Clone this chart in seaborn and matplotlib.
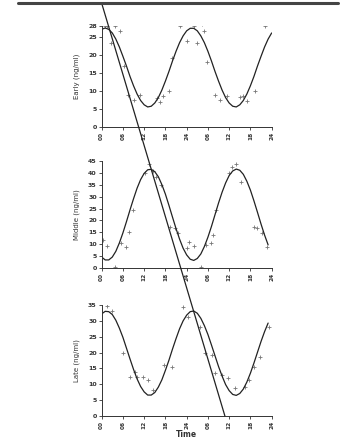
import numpy as np
import pandas as pd
import matplotlib
matplotlib.use("Agg")
import matplotlib.pyplot as plt
from matplotlib.lines import Line2D
from matplotlib.patches import ConnectionPatch
import seaborn as sns

# ---------------- data ----------------
early_fit_t = list(range(0, 49))
early_fit = [27.1, 27.5, 27.1, 26.1, 24.4, 22.2, 19.6, 16.9, 14.0, 11.4, 9.1, 7.3, 6.1,
             5.5, 5.7, 6.6, 8.1, 10.2, 12.7, 15.4, 18.3, 21.0, 23.4, 25.3, 26.7,
             27.4, 27.4, 26.7, 25.3, 23.4, 21.0, 18.3, 15.4, 12.7, 10.2, 8.1, 6.6,
             5.7, 5.5, 6.1, 7.3, 9.1, 11.4, 14.0, 16.9, 19.6, 22.2, 24.4, 26.1]
middle_fit_t = list(range(0, 48))
middle_fit = [4.7, 3.5, 3.5, 4.7, 7.1, 10.6, 14.8, 19.5, 24.4, 29.1, 33.5, 37.1, 39.7,
              41.2, 41.4, 40.4, 38.3, 35.0, 31.0, 26.3, 21.4, 16.6, 12.2, 8.4, 5.6,
              3.8, 3.3, 4.1, 6.0, 9.1, 13.0, 17.5, 22.4, 27.3, 31.8, 35.7, 38.8,
              40.7, 41.5, 41.0, 39.3, 36.4, 32.7, 28.2, 23.4, 18.5, 13.9, 9.8]
late_fit_t = list(range(0, 48))
late_fit = [32.2, 33.0, 32.9, 32.0, 30.2, 27.7, 24.8, 21.4, 18.0, 14.7, 11.7, 9.3, 7.6,
            6.6, 6.6, 7.4, 9.1, 11.4, 14.4, 17.6, 21.1, 24.4, 27.5, 30.0, 31.8,
            32.9, 33.1, 32.4, 30.8, 28.5, 25.7, 22.4, 19.0, 15.6, 12.6, 9.9, 8.0,
            6.8, 6.5, 7.1, 8.5, 10.7, 13.5, 16.7, 20.1, 23.5, 26.6, 29.3]

early_obs_t = [0.9, 1.6, 3.8, 5.2, 2.6, 6.3, 7.5, 9.0, 10.8, 15.6, 16.5, 17.3, 18.9, 20.0,
               22.2, 24.0, 26.0, 26.9, 28.3, 28.8, 29.7, 32.0, 33.5, 35.4, 39.2, 40.0,
               41.0, 43.2, 46.2]
early_obs_v = [28.0, 28.0, 28.0, 26.6, 23.3, 17.0, 8.8, 7.4, 8.8, 8.0, 7.0, 8.6, 10.0, 19.0,
               28.0, 24.0, 28.0, 23.3, 28.5, 26.7, 17.9, 8.8, 7.4, 8.6, 8.3, 8.6,
               7.1, 9.9, 28.0]

middle_obs_t = [0.5, 1.6, 3.7, 5.6, 6.8, 7.8, 8.9, 12.1, 13.5, 14.5, 15.4, 16.8, 19.2, 20.6,
                21.5, 24.0, 24.8, 26.2, 28.0, 29.4, 30.8, 31.3, 32.2, 36.0, 36.9, 37.9,
                39.3, 43.0, 43.9, 45.3, 46.7]
middle_obs_v = [11.8, 9.3, 0.7, 10.4, 9.0, 15.0, 24.4, 40.0, 43.5, 40.5, 38.0, 35.0, 17.4, 16.7,
                14.6, 8.4, 11.1, 9.3, 0.7, 9.7, 10.4, 13.9, 24.4, 40.0, 42.5, 43.5,
                36.0, 17.4, 17.0, 14.6, 9.0]

late_obs_t = [1.4, 2.8, 6.1, 8.0, 9.4, 9.9, 11.8, 13.2, 14.6, 17.5, 19.8, 23.1, 24.5, 27.8,
              29.2, 31.1, 32.1, 34.0, 35.8, 37.7, 40.6, 41.5, 42.9, 44.8, 47.2]
late_obs_v = [34.7, 33.0, 19.8, 12.4, 14.0, 12.4, 12.4, 11.4, 8.2, 16.1, 15.6, 34.5, 31.3, 28.2,
              19.8, 19.2, 13.5, 12.9, 11.9, 8.7, 9.3, 11.4, 15.6, 18.7, 28.2]

panel_names = ["Early (ng/ml)", "Middle (ng/ml)", "Late (ng/ml)"]
x_ticks = [0, 6, 12, 18, 24, 30, 36, 42, 48]
x_tick_labels = ["00", "06", "12", "18", "24", "06", "12", "18", "24"]
y_ticks = [[0, 5, 10, 15, 20, 25, 28],
           [0, 5, 10, 15, 20, 25, 30, 35, 40, 45],
           [0, 5, 10, 15, 20, 25, 30, 35]]
x_label = "Time"

# ---------------- figure ----------------
sns.set_style("ticks")
plt.rcParams["font.family"] = ["DejaVu Sans"]
fig = plt.figure(figsize=(3.4, 4.41), dpi=100)

boxes = [[0.299, 0.7127, 0.5, 0.228],
         [0.299, 0.3916, 0.5, 0.244],
         [0.299, 0.0567, 0.5, 0.2517]]
fits = [(early_fit_t, early_fit), (middle_fit_t, middle_fit), (late_fit_t, late_fit)]
obs = [(early_obs_t, early_obs_v), (middle_obs_t, middle_obs_v), (late_obs_t, late_obs_v)]

axes = []
for i in range(3):
    ax = fig.add_axes(boxes[i])
    fdf = pd.DataFrame({"t": fits[i][0], "v": fits[i][1]})
    odf = pd.DataFrame({"t": obs[i][0], "v": obs[i][1]})
    sns.lineplot(data=fdf, x="t", y="v", ax=ax, color="#222222", linewidth=0.9)
    sns.scatterplot(data=odf, x="t", y="v", ax=ax, marker="+", color="#777777",
                    s=8, linewidth=0.6)
    ax.set_xlim(0, 48)
    ax.set_ylim(0, y_ticks[i][-1])
    ax.set_xticks(x_ticks)
    ax.set_xticklabels(x_tick_labels, rotation=90, fontsize=4.2, fontweight="bold",
                       color="#333333")
    ax.set_yticks(y_ticks[i])
    ax.set_yticklabels([str(v) for v in y_ticks[i]], fontsize=4.5, fontweight="bold",
                       color="#333333")
    ax.tick_params(axis="both", length=2, width=0.6, pad=1.5, colors="#333333")
    ax.set_ylabel(panel_names[i], fontsize=5, color="#333333", labelpad=6)
    ax.set_xlabel("")
    for s in ["top", "right"]:
        ax.spines[s].set_visible(False)
    for s in ["left", "bottom"]:
        ax.spines[s].set_linewidth(0.7)
        ax.spines[s].set_color("#333333")
    ax.patch.set_alpha(0)
    axes.append(ax)

axes[2].set_xlabel(x_label, fontsize=5.5, fontweight="bold", color="#333333", labelpad=1)

# diagonal phase line across panels
con = ConnectionPatch(xyA=(0, 34.4), coordsA=axes[0].transData,
                      xyB=(34.8, 0), coordsB=axes[2].transData,
                      color="#222222", linewidth=0.9)
fig.add_artist(con)

# thick rule at top of figure
fig.add_artist(Line2D([18 / 340, 338 / 340], [1 - 3 / 441, 1 - 3 / 441],
                      transform=fig.transFigure, color="#444444", linewidth=2.2))

fig.savefig("out.png", dpi=100)
